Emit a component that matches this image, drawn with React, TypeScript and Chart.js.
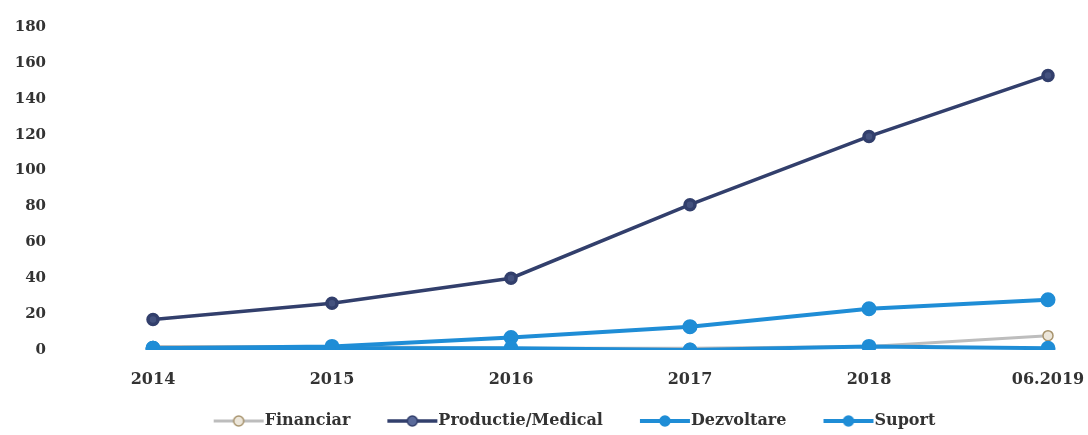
import React, { useEffect, useRef } from "react";
import { Chart, registerables } from "chart.js";

Chart.register(...registerables);

const categories = ["2014", "2015", "2016", "2017", "2018", "06.2019"];
const financiar = [2, 2, 1, 1, 2, 8];
const productie = [17, 26, 40, 81, 119, 153];
const dezvoltare = [1, 2, 7, 13, 23, 28];
const suport = [1, 1, 1, 0, 2, 1];
const yTicks = [0, 20, 40, 60, 80, 100, 120, 140, 160, 180];

const FONT = "'DejaVu Serif', 'Liberation Serif', serif";
const NAVY = "#323f6c";
const BLUE = "#1f8dd6";
const GRAY = "#bdbdbd";
const LEGEND_PAD = 20;
const ICON_GAP = 16;
const ICON_W = 52;

function legendIcon(line: string, fill: string, border: string, lw: number) {
  const c = document.createElement("canvas");
  const m = ICON_GAP + 8;
  c.width = m + ICON_W;
  c.height = 14;
  const ctx = c.getContext("2d")!;
  ctx.strokeStyle = line;
  ctx.lineWidth = lw;
  ctx.beginPath();
  ctx.moveTo(m + 1, 7);
  ctx.lineTo(m + ICON_W - 1, 7);
  ctx.stroke();
  ctx.beginPath();
  ctx.arc(m + ICON_W / 2, 7, 5, 0, Math.PI * 2);
  ctx.fillStyle = fill;
  ctx.fill();
  ctx.lineWidth = 1.5;
  ctx.strokeStyle = border;
  ctx.stroke();
  return c;
}

const legendShift = {
  id: "legendShift",
  afterLayout(chart: any) {
    const l = chart.legend;
    if (l) {
      l.left += 42;
      l.right += 42;
    }
  },
};

export default function App() {
  const ref = useRef<HTMLCanvasElement>(null);
  useEffect(() => {
    document.body.style.margin = "0";
    const icons = [
      legendIcon(GRAY, "#ece6da", "#a8946e", 3),
      legendIcon(NAVY, "#5a6a9a", NAVY, 3.5),
      legendIcon(BLUE, BLUE, BLUE, 4),
      legendIcon(BLUE, BLUE, BLUE, 4),
    ];
    const chart = new Chart(ref.current!, {
      type: "line",
      data: {
        labels: categories,
        datasets: [
          {
            label: "Financiar",
            data: financiar,
            borderColor: GRAY,
            backgroundColor: GRAY,
            pointBackgroundColor: "#ece6da",
            pointBorderColor: "#a8946e",
            pointRadius: 5,
            pointBorderWidth: 1.5,
            borderWidth: 3,
            order: 4,
          },
          {
            label: "Productie/Medical",
            data: productie,
            borderColor: NAVY,
            backgroundColor: NAVY,
            pointBackgroundColor: "#44527f",
            pointBorderColor: NAVY,
            pointRadius: 5,
            borderWidth: 3.5,
            order: 3,
          },
          {
            label: "Dezvoltare",
            data: dezvoltare,
            borderColor: BLUE,
            backgroundColor: BLUE,
            pointBackgroundColor: BLUE,
            pointBorderColor: BLUE,
            pointRadius: 5.5,
            borderWidth: 4,
            order: 2,
          },
          {
            label: "Suport",
            data: suport,
            borderColor: BLUE,
            backgroundColor: BLUE,
            pointBackgroundColor: BLUE,
            pointBorderColor: BLUE,
            pointRadius: 5.5,
            borderWidth: 4,
            order: 1,
          },
        ],
      },
      plugins: [legendShift],
      options: {
        animation: false,
        responsive: false,
        maintainAspectRatio: false,
        layout: { padding: { top: 27, right: 40, left: 0, bottom: -4 } },
        scales: {
          x: {
            offset: false,
            grid: { display: false, drawTicks: false },
            border: { display: false },
            ticks: {
              color: "#333",
              padding: 20,
              maxRotation: 0,
              autoSkip: false,
              font: { family: FONT, size: 16, weight: "bold" },
            },
            afterFit: (s: any) => {
              s.height = 43;
              s.paddingLeft = 0;
              s.paddingRight = 0;
            },
          },
          y: {
            min: 0,
            max: 180,
            grid: { display: false, drawTicks: false },
            border: { display: false },
            afterBuildTicks: (s: any) => {
              s.ticks = yTicks.map((v) => ({ value: v }));
            },
            ticks: {
              color: "#333",
              padding: 107,
              font: { family: FONT, size: 15, weight: "bold" },
            },
            afterFit: (s: any) => {
              s.width = 153;
              s.paddingTop = 0;
              s.paddingBottom = 0;
            },
          },
        },
        plugins: {
          tooltip: { enabled: false },
          legend: {
            position: "bottom",
            labels: {
              usePointStyle: true,
              pointStyleWidth: ICON_GAP + ICON_W - 8,
              padding: LEGEND_PAD,
              color: "#333",
              font: { family: FONT, size: 16, weight: "bold" },
              sort: (a: any, b: any) => a.datasetIndex - b.datasetIndex,
              generateLabels: (ch: any) => {
                const items = Chart.defaults.plugins.legend.labels.generateLabels(ch);
                return items.map((it: any) => ({ ...it, pointStyle: icons[it.datasetIndex] }));
              },
            },
          },
        },
      },
    });
    return () => chart.destroy();
  }, []);
  return (
    <div style={{ width: 1088, height: 435 }}>
      <canvas ref={ref} width={1088} height={435} style={{ display: "block" }} />
    </div>
  );
}
